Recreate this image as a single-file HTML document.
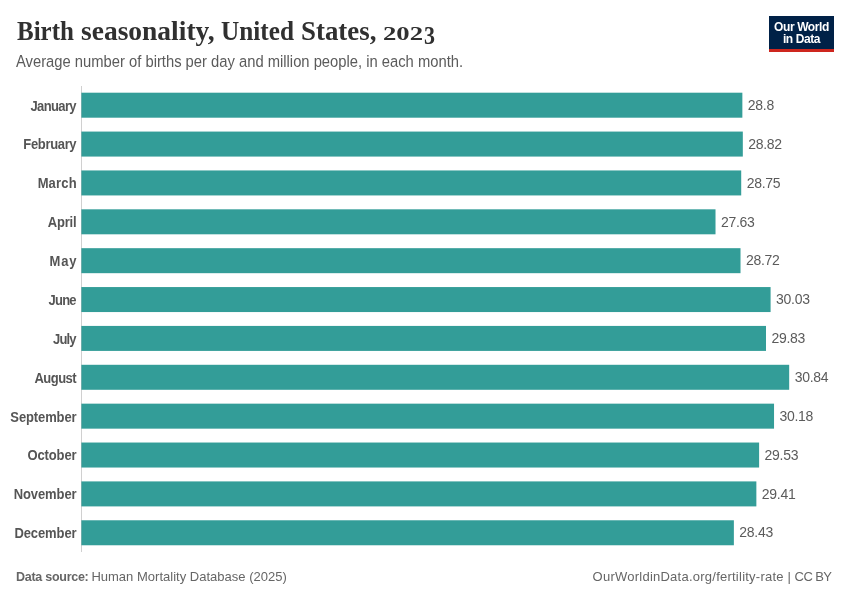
<!DOCTYPE html>
<html><head><meta charset="utf-8"><title>Birth seasonality, United States, 2023</title>
<style>
html,body{margin:0;padding:0;background:#fff;}
body{width:850px;height:600px;position:relative;overflow:hidden;font-family:"Liberation Sans",sans-serif;color:#5b5b5b;}
.title{position:absolute;left:0;top:13.8px;font-family:"Liberation Serif",serif;font-weight:bold;font-size:27px;line-height:34px;color:#303030;white-space:nowrap;letter-spacing:0px;}
.w{position:absolute;top:0;display:inline-block;transform-origin:0 50%;}
.os{font-size:19.5px;top:3.3px;}
.os3{font-size:25px;top:5.1px;}
.sub{position:absolute;left:16px;top:52.6px;transform:scaleY(1.07);transform-origin:0 13.9px;font-size:14.78px;line-height:18px;color:#5b5b5b;white-space:nowrap;}
.logo{position:absolute;left:769px;top:16px;width:65px;height:33px;background:#002147;border-bottom:3px solid #ce261e;color:#fff;font-weight:bold;font-size:12px;line-height:12px;text-align:center;letter-spacing:-0.4px;}
.logo span{display:block;}
.chart{position:absolute;left:0;top:0;}
.lab{position:absolute;left:0;transform:scaleY(1.08);transform-origin:0 16.8px;height:25px;line-height:25px;text-align:right;font-weight:bold;font-size:13px;color:#555;white-space:nowrap;}
.bar{position:absolute;left:81.4px;height:25px;background:#339d98;}
.val{position:absolute;height:25px;line-height:25px;font-size:14px;letter-spacing:-0.3px;color:#5b5b5b;white-space:nowrap;}
.src{position:absolute;left:16px;top:568px;font-size:13px;line-height:18px;color:#666;white-space:nowrap;}
.src b{font-weight:bold;font-size:12.5px;letter-spacing:-0.27px;}
.src span{position:absolute;left:75.4px;top:0;letter-spacing:0.01px;}
.u1{position:absolute;left:592.6px;letter-spacing:0.24px;}
.u2{position:absolute;left:787.6px;}
.u3{position:absolute;left:794.6px;letter-spacing:-0.6px;}
.url{position:absolute;left:0;top:568px;font-size:13px;line-height:18px;color:#666;white-space:nowrap;}
</style></head><body>
<div class="title"><span class="w" style="left:16.6px;transform:scaleX(0.925)">Birth</span> <span class="w" style="left:81.4px;transform:scaleX(1.018)">seasonality,</span> <span class="w" style="left:221.2px;transform:scaleX(0.935)">United</span> <span class="w" style="left:301.2px;transform:scaleX(0.995)">States,</span> <span class="w os" style="left:383.3px;transform:scaleX(1.37)">202</span><span class="w os3" style="left:424.2px;transform:scaleX(0.88)">3</span></div>
<div class="sub">Average number of births per day and million people, in each month.</div>
<div class="logo"><span style="margin-top:5px">Our World</span><span>in Data</span></div>
<svg class="chart" width="850" height="600" viewBox="0 0 850 600"><line x1="81.5" y1="86" x2="81.5" y2="552" stroke="#d0d0d0" stroke-width="1"/><g fill="#00847e" fill-opacity="0.8"><rect x="81.4" y="92.70" width="660.96" height="25"/><rect x="81.4" y="131.57" width="661.42" height="25"/><rect x="81.4" y="170.44" width="659.81" height="25"/><rect x="81.4" y="209.31" width="634.11" height="25"/><rect x="81.4" y="248.18" width="659.12" height="25"/><rect x="81.4" y="287.05" width="689.19" height="25"/><rect x="81.4" y="325.92" width="684.60" height="25"/><rect x="81.4" y="364.79" width="707.78" height="25"/><rect x="81.4" y="403.66" width="692.63" height="25"/><rect x="81.4" y="442.53" width="677.71" height="25"/><rect x="81.4" y="481.40" width="674.96" height="25"/><rect x="81.4" y="520.27" width="652.47" height="25"/></g></svg>
<div class="lab" style="top:93.6px;letter-spacing:-0.62px;width:75.98px">January</div>
<div class="val" style="top:93px;left:747.86px">28.8</div>
<div class="lab" style="top:132.47px;letter-spacing:-0.34px;width:76.26px">February</div>
<div class="val" style="top:132px;left:748.32px">28.82</div>
<div class="lab" style="top:171.34px;letter-spacing:0.17px;width:76.77px">March</div>
<div class="val" style="top:171px;left:746.71px">28.75</div>
<div class="lab" style="top:210.21px;letter-spacing:-0.18px;width:76.42px">April</div>
<div class="val" style="top:210px;left:721.01px">27.63</div>
<div class="lab" style="top:249.08px;letter-spacing:0.85px;width:77.45px">May</div>
<div class="val" style="top:248px;left:746.02px">28.72</div>
<div class="lab" style="top:287.95px;letter-spacing:-0.77px;width:75.83px">June</div>
<div class="val" style="top:287px;left:776.09px">30.03</div>
<div class="lab" style="top:326.82px;letter-spacing:-0.83px;width:75.77px">July</div>
<div class="val" style="top:326px;left:771.50px">29.83</div>
<div class="lab" style="top:365.69px;letter-spacing:-0.54px;width:76.06px">August</div>
<div class="val" style="top:365px;left:794.68px">30.84</div>
<div class="lab" style="top:404.56px;letter-spacing:-0.12px;width:76.48px">September</div>
<div class="val" style="top:404px;left:779.53px">30.18</div>
<div class="lab" style="top:443.43px;letter-spacing:-0.12px;width:76.48px">October</div>
<div class="val" style="top:443px;left:764.61px">29.53</div>
<div class="lab" style="top:482.3px;letter-spacing:-0.09px;width:76.51px">November</div>
<div class="val" style="top:482px;left:761.86px">29.41</div>
<div class="lab" style="top:521.17px;letter-spacing:-0.1px;width:76.50px">December</div>
<div class="val" style="top:520px;left:739.37px">28.43</div>
<div class="src"><b>Data source:</b> <span>Human Mortality Database (2025)</span></div>
<div class="url"><span class="u1">OurWorldinData.org/fertility-rate</span><span class="u2">|</span><span class="u3">CC BY</span></div>
</body></html>
